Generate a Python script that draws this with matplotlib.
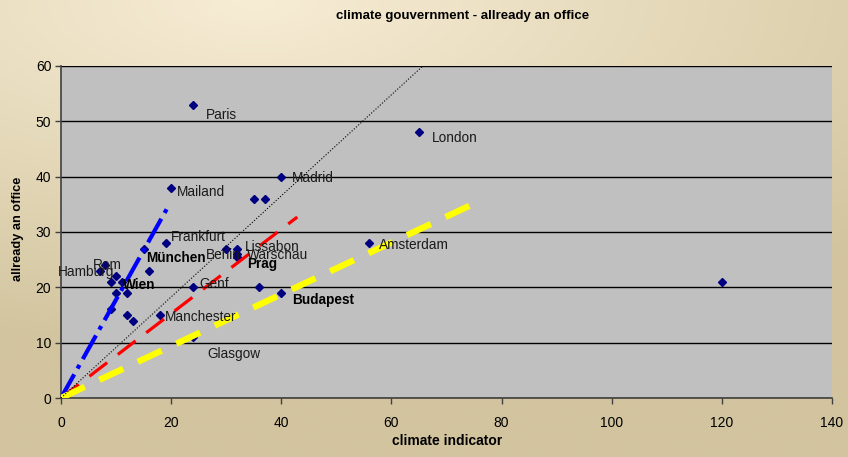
import numpy as np
import matplotlib
matplotlib.use("Agg")
import matplotlib.pyplot as plt

plt.rcParams['font.family'] = ['Liberation Sans', 'DejaVu Sans']

# cities with a label
names = ["Paris", "London", "Madrid", "Mailand", "Frankfurt", "Amsterdam",
         "Lissabon", "Berlin", "Warschau", "Prag", "München", "Rom",
         "Hamburg", "Wien", "Genf", "Manchester", "Glasgow", "Budapest"]
label_x = [24, 65, 40, 20, 19, 56, 32, 30, 32, 32, 15, 8, 7, 12, 24, 18, 24, 40]
label_y = [53, 48, 40, 38, 28, 28, 27, 27, 26, 25.5, 27, 24, 23, 19, 20, 15, 11, 19]
bold_names = ["München", "Wien", "Prag", "Budapest"]

# cities without a label
other_x = [35, 37, 16, 10, 9, 11, 10, 9, 12, 13, 36, 120]
other_y = [36, 36, 23, 22, 21, 21, 19, 16, 15, 14, 20, 21]

# trend lines: end points (all start at 0,0)
trend_end_x = [19.4, 42.9, 74.3, 65.7]
trend_end_y = [34.5, 32.7, 34.8, 60.0]

# label offsets in pixels (dx, dy)
offsets = {
    "Paris": (13, -10), "London": (13, -6), "Madrid": (11, -1),
    "Mailand": (6, -4), "Frankfurt": (5, 6), "Amsterdam": (10, -2),
    "Lissabon": (8, 2), "Berlin": (-20, -6), "Warschau": (10, -1),
    "Prag": (10, -7), "München": (3, -9), "Rom": (-12, 0),
    "Hamburg": (-42, -1), "Wien": (-4, 8), "Genf": (6, 3),
    "Manchester": (5, -2), "Glasgow": (14, -17), "Budapest": (11, -7),
}

fig = plt.figure(figsize=(8.48, 4.57), dpi=100)

# background gradient
bg = fig.add_axes([0, 0, 1, 1], zorder=-10)
gx, gy = np.meshgrid(np.linspace(0, 1, 300), np.linspace(0, 1, 200))
d = np.sqrt(((gx - 0.3) * 1.0) ** 2 + ((gy - 0.0) * 1.3) ** 2)
t = np.clip(d / 1.0, 0, 1)
c0 = np.array([247, 237, 213]) / 255
c1 = np.array([210, 196, 158]) / 255
img = c0[None, None, :] * (1 - t[..., None]) + c1[None, None, :] * t[..., None]
bg.imshow(img, aspect='auto', extent=[0, 1, 0, 1], origin='upper')
bg.set_axis_off()

ax = fig.add_axes([61 / 848, 1 - 398 / 457, 771 / 848, 332 / 457])
ax.set_facecolor('#C0C0C0')
ax.set_xlim(0, 140)
ax.set_ylim(0, 60)
ax.set_xticks(range(0, 141, 20))
ax.set_yticks(range(0, 61, 10))
ax.yaxis.grid(True, color='black', linewidth=1)
ax.set_axisbelow(True)
for s in ['top', 'right']:
    ax.spines[s].set_visible(False)
for s in ['left', 'bottom']:
    ax.spines[s].set_color('#404040')
    ax.spines[s].set_linewidth(1.2)
ax.tick_params(direction='out', length=4, width=1, color='#404040',
               labelsize=10, colors='black')
ax.tick_params(axis='x', pad=9)
ax.tick_params(axis='y', pad=3)

ax.plot(label_x, label_y, 'D', color='#000080', ms=4.3, zorder=3, clip_on=False)
ax.plot(other_x, other_y, 'D', color='#000080', ms=4.3, zorder=3, clip_on=False)

# trend lines
styles = [
    dict(color='#0000FF', lw=3.0, dashes=(6.5, 1.6, 1.0, 1.6)),
    dict(color='#FF0000', lw=2.3, dashes=(7.0, 4.2)),
    dict(color='#FFFF00', lw=4.5, dashes=(4.2, 2.6)),
    dict(color='black', lw=0.8, linestyle=':'),
]
for ex, ey, st in zip(trend_end_x, trend_end_y, styles):
    ax.plot([0, ex], [0, ey], zorder=4, solid_capstyle='butt',
            dash_capstyle='butt', **st)

for n, x, y in zip(names, label_x, label_y):
    dx, dy = offsets[n]
    ax.annotate(n, (x, y), xytext=(dx, dy), textcoords='offset pixels',
                ha='left', va='center', fontsize=9.8,
                fontweight='bold' if n in bold_names else 'normal',
                color='#000000' if n in bold_names else '#1a1a1a', zorder=5)

fig.text(463 / 848, 1 - 16 / 457, "climate gouvernment - allready an office",
         ha='center', va='center', fontsize=9.5, fontweight='bold')
fig.text(447 / 848, 1 - 441 / 457, "climate indicator",
         ha='center', va='center', fontsize=10, fontweight='bold')
fig.text(18 / 848, 1 - 229 / 457, "allready an office", rotation=90,
         ha='center', va='center', fontsize=9.2, fontweight='bold')

fig.savefig("out.png", dpi=100)
